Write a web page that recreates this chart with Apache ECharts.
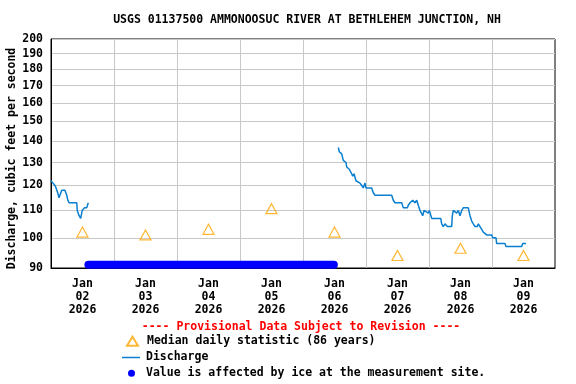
<!DOCTYPE html>
<html><head><meta charset="utf-8">
<script src="https://cdn.jsdelivr.net/npm/echarts@6/dist/echarts.min.js"></script>
<style>html,body{margin:0;padding:0;background:#fff}#c{width:576px;height:384px}</style>
</head><body><div id="c"></div>
<script>
const titleText = 'USGS 01137500 AMMONOOSUC RIVER AT BETHLEHEM JUNCTION, NH';
const yAxisName = 'Discharge, cubic feet per second';
const provisionalText = '---- Provisional Data Subject to Revision ----';
const yTickValues = [90, 100, 110, 120, 130, 140, 150, 160, 170, 180, 190, 200];
const xStart = '2026-01-02 00:00';
const xEnd = '2026-01-10 00:00';
const dayBoundaries = ['2026-01-03 00:00', '2026-01-04 00:00', '2026-01-05 00:00', '2026-01-06 00:00', '2026-01-07 00:00', '2026-01-08 00:00', '2026-01-09 00:00'];
const dayLabelTimes = ['2026-01-02 12:00', '2026-01-03 12:00', '2026-01-04 12:00', '2026-01-05 12:00', '2026-01-06 12:00', '2026-01-07 12:00', '2026-01-08 12:00', '2026-01-09 12:00'];
const medianName = 'Median daily statistic (86 years)';
const medianValues = [102, 101, 103, 110.7, 102, 94, 96.4, 94];
const dischargeName = 'Discharge';
const dischargeBeforeIce = [
  ['2026-01-02 00:00', 122], ['2026-01-02 00:15', 122], ['2026-01-02 00:45', 121], ['2026-01-02 01:30', 120],
  ['2026-01-02 01:55', 119], ['2026-01-02 02:33', 117], ['2026-01-02 03:03', 115], ['2026-01-02 03:24', 116],
  ['2026-01-02 04:06', 118], ['2026-01-02 05:18', 118], ['2026-01-02 06:00', 116], ['2026-01-02 06:24', 114],
  ['2026-01-02 06:54', 113], ['2026-01-02 09:48', 113], ['2026-01-02 10:00', 110], ['2026-01-02 10:42', 108],
  ['2026-01-02 11:18', 107], ['2026-01-02 11:54', 110], ['2026-01-02 12:42', 111], ['2026-01-02 13:36', 111],
  ['2026-01-02 14:12', 113]
];
const dischargeAfterIce = [
  ['2026-01-06 13:27', 137], ['2026-01-06 13:50', 135], ['2026-01-06 14:44', 134], ['2026-01-06 15:21', 131],
  ['2026-01-06 16:23', 130], ['2026-01-06 16:39', 128], ['2026-01-06 17:38', 127], ['2026-01-06 18:33', 125],
  ['2026-01-06 18:56', 124], ['2026-01-06 19:26', 125], ['2026-01-06 20:11', 122], ['2026-01-06 21:43', 121],
  ['2026-01-06 22:22', 120], ['2026-01-06 22:58', 119], ['2026-01-06 23:37', 121], ['2026-01-07 00:00', 119],
  ['2026-01-07 02:10', 119], ['2026-01-07 02:47', 117], ['2026-01-07 03:26', 116], ['2026-01-07 09:47', 116],
  ['2026-01-07 10:24', 114], ['2026-01-07 11:03', 113], ['2026-01-07 13:36', 113], ['2026-01-07 14:13', 111],
  ['2026-01-07 15:44', 111], ['2026-01-07 16:07', 112], ['2026-01-07 16:46', 113], ['2026-01-07 17:47', 114],
  ['2026-01-07 18:40', 113], ['2026-01-07 19:19', 114], ['2026-01-07 19:55', 112], ['2026-01-07 20:34', 110],
  ['2026-01-07 21:36', 108], ['2026-01-07 22:06', 110], ['2026-01-07 23:44', 109], ['2026-01-08 00:07', 110],
  ['2026-01-08 01:02', 107], ['2026-01-08 04:28', 107], ['2026-01-08 04:50', 105], ['2026-01-08 05:27', 104],
  ['2026-01-08 06:06', 105], ['2026-01-08 06:44', 105], ['2026-01-08 06:58', 104], ['2026-01-08 08:39', 104],
  ['2026-01-08 08:53', 108], ['2026-01-08 09:16', 110], ['2026-01-08 10:33', 109], ['2026-01-08 11:10', 110],
  ['2026-01-08 11:49', 108], ['2026-01-08 12:28', 110], ['2026-01-08 13:04', 111], ['2026-01-08 14:58', 111],
  ['2026-01-08 15:37', 108], ['2026-01-08 16:16', 106], ['2026-01-08 16:53', 105], ['2026-01-08 17:31', 104],
  ['2026-01-08 18:24', 104], ['2026-01-08 18:47', 105], ['2026-01-08 20:05', 103], ['2026-01-08 20:41', 102],
  ['2026-01-08 21:20', 102], ['2026-01-08 21:59', 101], ['2026-01-08 23:53', 101], ['2026-01-09 00:16', 100],
  ['2026-01-09 01:31', 100], ['2026-01-09 01:47', 98], ['2026-01-09 04:57', 98], ['2026-01-09 05:20', 97],
  ['2026-01-09 11:19', 97], ['2026-01-09 11:41', 98], ['2026-01-09 12:57', 98]
];
const iceName = 'Value is affected by ice at the measurement site.';
const iceAffected = [['2026-01-02 14:15', 91], ['2026-01-06 11:45', 91]];

const MONTHS = ['Jan', 'Feb', 'Mar', 'Apr', 'May', 'Jun', 'Jul', 'Aug', 'Sep', 'Oct', 'Nov', 'Dec'];
function toTs(s) {
  const p = s.split(/[- :]/).map(Number);
  return new Date(p[0], p[1] - 1, p[2], p[3] || 0, p[4] || 0).getTime();
}
const pairs = arr => arr.map(d => [toTs(d[0]), d[1]]);
const FONT = 'DejaVu Sans Mono';
const txt = { fontFamily: FONT, fontWeight: 'bold', fontSize: 11.5, color: '#000' };

const dischargeData = pairs(dischargeBeforeIce).concat([[toTs('2026-01-04 00:00'), '-']], pairs(dischargeAfterIce));
const medianData = dayLabelTimes.map((t, i) => [toTs(t), medianValues[i]]);

const chart = echarts.init(document.getElementById('c'), null, { renderer: 'canvas' });
chart.setOption({
  animation: false,
  backgroundColor: '#fff',
  title: {
    text: titleText, left: 302, top: 9, textAlign: 'center',
    textStyle: Object.assign({}, txt, { fontSize: 11.5 })
  },
  grid: { left: 51, right: 21, top: 39, bottom: 116, show: true, borderColor: '#000', borderWidth: 1, containLabel: false, outerBoundsMode: 'none' },
  xAxis: {
    type: 'value', min: toTs(xStart), max: toTs(xEnd), scale: true,
    axisLine: { show: true, lineStyle: { color: '#000', width: 1 } },
    axisTick: { show: false, customValues: dayBoundaries.map(toTs) },
    splitLine: { show: true, lineStyle: { color: '#c8c8c8', width: 1 } },
    axisLabel: Object.assign({}, txt, {
      customValues: dayLabelTimes.map(toTs), margin: 10, lineHeight: 13, hideOverlap: false,
      formatter: v => { const d = new Date(v); return MONTHS[d.getMonth()] + '\n' + String(d.getDate()).padStart(2, '0') + '\n' + d.getFullYear(); }
    })
  },
  yAxis: {
    type: 'log', logBase: 10, min: 90, max: 200,
    name: yAxisName, nameLocation: 'middle', nameGap: 33, nameRotate: 90, nameMoveOverlap: false,
    nameTextStyle: Object.assign({}, txt, { padding: [0, 10, 0, 0] }),
    axisLine: { show: true, lineStyle: { color: '#000', width: 1 } },
    axisTick: { show: false, customValues: yTickValues },
    splitLine: { show: true, lineStyle: { color: '#c8c8c8', width: 1 } },
    axisLabel: Object.assign({}, txt, { customValues: yTickValues, margin: 8, formatter: v => String(Math.round(v)) })
  },
  legend: [
    { data: [{ name: medianName, icon: 'triangle' }], left: 126, top: 334.2, orient: 'vertical', padding: 0,
      itemWidth: 11, itemHeight: 9, selectedMode: false, textStyle: Object.assign({}, txt, { lineHeight: 14, padding: [0, 0, 0, 4] }) },
    { data: [{ name: dischargeName, icon: 'rect' }], left: 122, top: 350.5, orient: 'vertical', padding: 0,
      itemWidth: 18, itemHeight: 1.5, selectedMode: false, textStyle: Object.assign({}, txt, { lineHeight: 14, padding: [0, 0, 0, 1] }) },
    { data: [{ name: iceName, icon: 'circle' }], left: 128, top: 366.2, orient: 'vertical', padding: 0,
      itemWidth: 7, itemHeight: 7, selectedMode: false, textStyle: Object.assign({}, txt, { lineHeight: 14, padding: [0, 0, 0, 6] }) }
  ],
  graphic: [{
    type: 'text', x: 301, y: 327.5,
    style: { text: provisionalText, fill: '#ff0000', font: 'bold 11.5px "DejaVu Sans Mono"', textAlign: 'center', textVerticalAlign: 'middle' }
  }],
  series: [
    { name: iceName, type: 'line', data: pairs(iceAffected), symbol: 'none', z: 2,
      lineStyle: { color: '#0000ff', width: 8, cap: 'round' }, itemStyle: { color: '#0000ff' } },
    { name: dischargeName, type: 'line', data: dischargeData, symbol: 'none', connectNulls: false, z: 3,
      lineStyle: { color: '#0a7fd0', width: 1.5 }, itemStyle: { color: '#0a7fd0' } },
    { name: medianName, type: 'scatter', data: medianData, symbol: 'triangle', symbolSize: [11, 10], z: 4,
      itemStyle: { color: 'rgba(255,255,255,0)', borderColor: '#ffa500', borderWidth: 1.2 } }
  ]
});
</script>
</body></html>
